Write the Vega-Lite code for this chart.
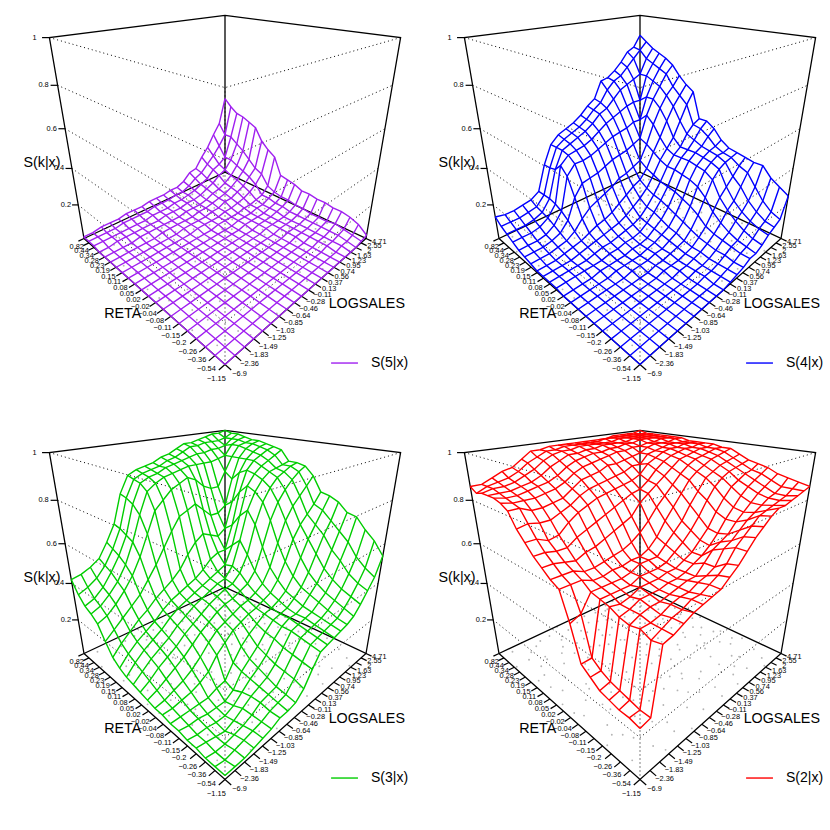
{"$schema":"https://vega.github.io/schema/vega-lite/v6.json","padding":0,"config":{"view":{"stroke":null},"font":"Liberation Sans"},
"datasets":{
"frame":[{"g":"a","o":0,"i":20,"j":0,"z":0},{"g":"a","o":1,"i":20,"j":0,"z":1},{"g":"a","o":2,"i":20,"j":20,"z":1},{"g":"a","o":3,"i":0,"j":20,"z":1},{"g":"a","o":4,"i":0,"j":20,"z":0},{"g":"b","o":0,"i":20,"j":20,"z":1},{"g":"b","o":1,"i":20,"j":20,"z":0},{"g":"c","o":0,"i":20,"j":0,"z":0},{"g":"c","o":1,"i":20,"j":20,"z":0},{"g":"c","o":2,"i":0,"j":20,"z":0},{"g":"c","o":3,"i":0,"j":0,"z":0},{"g":"c","o":4,"i":20,"j":0,"z":0}],
"levels":[{"g":"p","o":0,"i":0,"j":0,"z":0},{"g":"p","o":1,"i":0,"j":0,"z":1},{"g":"l2","o":0,"i":20,"j":0,"z":0.2},{"g":"l2","o":1,"i":0,"j":0,"z":0.2},{"g":"l2","o":2,"i":0,"j":20,"z":0.2},{"g":"l4","o":0,"i":20,"j":0,"z":0.4},{"g":"l4","o":1,"i":0,"j":0,"z":0.4},{"g":"l4","o":2,"i":0,"j":20,"z":0.4},{"g":"l6","o":0,"i":20,"j":0,"z":0.6},{"g":"l6","o":1,"i":0,"j":0,"z":0.6},{"g":"l6","o":2,"i":0,"j":20,"z":0.6},{"g":"l8","o":0,"i":20,"j":0,"z":0.8},{"g":"l8","o":1,"i":0,"j":0,"z":0.8},{"g":"l8","o":2,"i":0,"j":20,"z":0.8},{"g":"l10","o":0,"i":20,"j":0,"z":1},{"g":"l10","o":1,"i":0,"j":0,"z":1},{"g":"l10","o":2,"i":0,"j":20,"z":1}],
"ticks":[{"a":"l","i":0,"j":0,"z":0,"di":0,"dj":-1,"t":"−1.15"},{"a":"l","i":1,"j":0,"z":0,"di":0,"dj":-1,"t":"−0.54"},{"a":"l","i":2,"j":0,"z":0,"di":0,"dj":-1,"t":"−0.36"},{"a":"l","i":3,"j":0,"z":0,"di":0,"dj":-1,"t":"−0.26"},{"a":"l","i":4,"j":0,"z":0,"di":0,"dj":-1,"t":"−0.2"},{"a":"l","i":5,"j":0,"z":0,"di":0,"dj":-1,"t":"−0.15"},{"a":"l","i":6,"j":0,"z":0,"di":0,"dj":-1,"t":"−0.11"},{"a":"l","i":7,"j":0,"z":0,"di":0,"dj":-1,"t":"−0.08"},{"a":"l","i":8,"j":0,"z":0,"di":0,"dj":-1,"t":"−0.04"},{"a":"l","i":9,"j":0,"z":0,"di":0,"dj":-1,"t":"−0.02"},{"a":"l","i":10,"j":0,"z":0,"di":0,"dj":-1,"t":"0.02"},{"a":"l","i":11,"j":0,"z":0,"di":0,"dj":-1,"t":"0.05"},{"a":"l","i":12,"j":0,"z":0,"di":0,"dj":-1,"t":"0.08"},{"a":"l","i":13,"j":0,"z":0,"di":0,"dj":-1,"t":"0.11"},{"a":"l","i":14,"j":0,"z":0,"di":0,"dj":-1,"t":"0.15"},{"a":"l","i":15,"j":0,"z":0,"di":0,"dj":-1,"t":"0.19"},{"a":"l","i":16,"j":0,"z":0,"di":0,"dj":-1,"t":"0.23"},{"a":"l","i":17,"j":0,"z":0,"di":0,"dj":-1,"t":"0.28"},{"a":"l","i":18,"j":0,"z":0,"di":0,"dj":-1,"t":"0.34"},{"a":"l","i":19,"j":0,"z":0,"di":0,"dj":-1,"t":"0.44"},{"a":"l","i":20,"j":0,"z":0,"di":0,"dj":-1,"t":"0.82"},
{"a":"r","i":0,"j":0,"z":0,"di":-1,"dj":0,"t":"−6.9"},{"a":"r","i":0,"j":1,"z":0,"di":-1,"dj":0,"t":"−2.36"},{"a":"r","i":0,"j":2,"z":0,"di":-1,"dj":0,"t":"−1.83"},{"a":"r","i":0,"j":3,"z":0,"di":-1,"dj":0,"t":"−1.49"},{"a":"r","i":0,"j":4,"z":0,"di":-1,"dj":0,"t":"−1.25"},{"a":"r","i":0,"j":5,"z":0,"di":-1,"dj":0,"t":"−1.03"},{"a":"r","i":0,"j":6,"z":0,"di":-1,"dj":0,"t":"−0.85"},{"a":"r","i":0,"j":7,"z":0,"di":-1,"dj":0,"t":"−0.64"},{"a":"r","i":0,"j":8,"z":0,"di":-1,"dj":0,"t":"−0.46"},{"a":"r","i":0,"j":9,"z":0,"di":-1,"dj":0,"t":"−0.28"},{"a":"r","i":0,"j":10,"z":0,"di":-1,"dj":0,"t":"−0.11"},{"a":"r","i":0,"j":11,"z":0,"di":-1,"dj":0,"t":"0.13"},{"a":"r","i":0,"j":12,"z":0,"di":-1,"dj":0,"t":"0.37"},{"a":"r","i":0,"j":13,"z":0,"di":-1,"dj":0,"t":"0.56"},{"a":"r","i":0,"j":14,"z":0,"di":-1,"dj":0,"t":"0.74"},{"a":"r","i":0,"j":15,"z":0,"di":-1,"dj":0,"t":"0.95"},{"a":"r","i":0,"j":16,"z":0,"di":-1,"dj":0,"t":"1.23"},{"a":"r","i":0,"j":17,"z":0,"di":-1,"dj":0,"t":"1.63"},{"a":"r","i":0,"j":18,"z":0,"di":-1,"dj":0,"t":"2"},{"a":"r","i":0,"j":19,"z":0,"di":-1,"dj":0,"t":"2.55"},{"a":"r","i":0,"j":20,"z":0,"di":-1,"dj":0,"t":"4.71"},
{"a":"z","i":20,"j":0,"z":0.2,"di":0.7,"dj":-0.7,"t":"0.2"},{"a":"z","i":20,"j":0,"z":0.4,"di":0.7,"dj":-0.7,"t":"0.4"},{"a":"z","i":20,"j":0,"z":0.6,"di":0.7,"dj":-0.7,"t":"0.6"},{"a":"z","i":20,"j":0,"z":0.8,"di":0.7,"dj":-0.7,"t":"0.8"},{"a":"z","i":20,"j":0,"z":1,"di":0.7,"dj":-0.7,"t":"1"}],
"titles":[{"i":8.87,"j":-2.56,"z":0,"t":"RETA"},{"i":-4.26,"j":12.04,"z":0,"t":"LOGSALES"},{"i":21.88,"j":-1.88,"z":0.43,"t":"S(k|x)"}],
"points":[{"i":0.4,"j":3.1,"z":0},{"i":0.9,"j":8.4,"z":0},{"i":1.2,"j":15.6,"z":0},{"i":1.5,"j":0.7,"z":0},{"i":1.8,"j":11.3,"z":0},{"i":2.1,"j":5.2,"z":0},{"i":2.3,"j":18.7,"z":0},{"i":2.6,"j":13.4,"z":0},{"i":2.9,"j":2.2,"z":0},{"i":3.1,"j":9.1,"z":0},{"i":3.3,"j":16.2,"z":0},{"i":3.6,"j":6.4,"z":0},{"i":3.8,"j":0.3,"z":0},{"i":4.0,"j":12.1,"z":0},{"i":4.2,"j":19.5,"z":0},{"i":4.4,"j":3.8,"z":0},{"i":4.7,"j":14.6,"z":0},{"i":4.9,"j":7.9,"z":0},{"i":5.1,"j":10.6,"z":0},{"i":5.3,"j":1.6,"z":0},{"i":5.5,"j":17.3,"z":0},{"i":5.8,"j":5.0,"z":0},{"i":6.0,"j":13.0,"z":0},{"i":6.1,"j":8.8,"z":0},{"i":6.4,"j":2.9,"z":0},{"i":6.6,"j":19.0,"z":0},{"i":6.8,"j":15.1,"z":0},{"i":7.0,"j":6.2,"z":0},{"i":7.2,"j":11.5,"z":0},{"i":7.4,"j":0.9,"z":0},{"i":7.7,"j":16.9,"z":0},{"i":7.9,"j":4.3,"z":0},{"i":8.1,"j":9.7,"z":0},{"i":8.3,"j":13.8,"z":0},{"i":8.5,"j":18.1,"z":0},{"i":8.7,"j":2.1,"z":0},{"i":8.9,"j":7.1,"z":0},{"i":9.1,"j":11.9,"z":0},{"i":9.3,"j":15.9,"z":0},{"i":9.5,"j":5.6,"z":0},{"i":9.7,"j":0.4,"z":0},{"i":9.9,"j":19.7,"z":0},{"i":10.1,"j":9.0,"z":0},{"i":10.3,"j":3.4,"z":0},{"i":10.5,"j":13.2,"z":0},{"i":10.7,"j":17.0,"z":0},{"i":10.9,"j":6.8,"z":0},{"i":11.1,"j":1.4,"z":0},{"i":11.3,"j":10.9,"z":0},{"i":11.5,"j":15.3,"z":0},{"i":11.7,"j":4.8,"z":0},{"i":11.9,"j":18.6,"z":0},{"i":12.1,"j":8.2,"z":0},{"i":12.3,"j":12.7,"z":0},{"i":12.5,"j":2.6,"z":0},{"i":12.7,"j":16.4,"z":0},{"i":12.9,"j":6.0,"z":0},{"i":13.1,"j":10.2,"z":0},{"i":13.3,"j":19.2,"z":0},{"i":13.5,"j":14.3,"z":0},{"i":13.7,"j":0.6,"z":0},{"i":13.9,"j":8.0,"z":0},{"i":14.1,"j":3.7,"z":0},{"i":14.3,"j":12.4,"z":0},{"i":14.5,"j":17.6,"z":0},{"i":14.7,"j":5.4,"z":0},{"i":14.9,"j":15.0,"z":0},{"i":15.1,"j":9.4,"z":0},{"i":15.3,"j":1.9,"z":0},{"i":15.5,"j":11.1,"z":0},{"i":15.7,"j":18.9,"z":0},{"i":15.9,"j":6.6,"z":0},{"i":16.1,"j":13.6,"z":0},{"i":16.3,"j":3.0,"z":0},{"i":16.5,"j":16.7,"z":0},{"i":16.7,"j":8.6,"z":0},{"i":16.9,"j":0.2,"z":0},{"i":17.1,"j":11.7,"z":0},{"i":17.3,"j":19.9,"z":0},{"i":17.5,"j":5.8,"z":0},{"i":17.7,"j":14.1,"z":0},{"i":17.9,"j":2.4,"z":0},{"i":18.1,"j":9.9,"z":0},{"i":18.3,"j":17.1,"z":0},{"i":18.5,"j":7.4,"z":0},{"i":18.7,"j":12.9,"z":0},{"i":18.9,"j":4.1,"z":0},{"i":19.1,"j":15.8,"z":0},{"i":19.3,"j":1.1,"z":0},{"i":19.5,"j":10.4,"z":0},{"i":19.7,"j":18.3,"z":0},{"i":19.9,"j":6.9,"z":0},{"i":0.6,"j":13.1,"z":0},{"i":1.0,"j":18.0,"z":0},{"i":2.0,"j":7.6,"z":0},{"i":3.5,"j":11.2,"z":0},{"i":4.5,"j":17.8,"z":0},{"i":5.6,"j":9.5,"z":0},{"i":6.5,"j":16.0,"z":0},{"i":7.5,"j":8.3,"z":0},{"i":8.6,"j":15.4,"z":0},{"i":9.6,"j":3.2,"z":0},{"i":10.6,"j":11.6,"z":0},{"i":11.6,"j":17.9,"z":0},{"i":12.6,"j":5.1,"z":0},{"i":13.6,"j":16.1,"z":0},{"i":14.6,"j":10.0,"z":0},{"i":15.6,"j":4.5,"z":0},{"i":16.6,"j":18.2,"z":0},{"i":17.6,"j":10.8,"z":0},{"i":18.6,"j":15.2,"z":0},{"i":19.6,"j":13.7,"z":0},{"i":16.0,"j":14.9,"z":0},{"i":17.2,"j":16.3,"z":0},{"i":18.2,"j":18.8,"z":0},{"i":19.2,"j":17.4,"z":0},{"i":15.2,"j":16.6,"z":0},{"i":14.2,"j":19.3,"z":0},{"i":19.4,"j":19.1,"z":0},{"i":18.8,"j":13.3,"z":0},{"i":17.8,"j":19.4,"z":0},{"i":16.8,"j":12.2,"z":0},{"i":0.3,"j":6.1,"z":0},{"i":0.7,"j":10.8,"z":0},{"i":1.3,"j":2.7,"z":0},{"i":1.6,"j":13.9,"z":0},{"i":2.4,"j":9.8,"z":0},{"i":2.7,"j":16.6,"z":0},{"i":3.0,"j":4.4,"z":0},{"i":3.4,"j":14.2,"z":0},{"i":3.9,"j":8.6,"z":0},{"i":4.3,"j":1.2,"z":0},{"i":4.6,"j":10.1,"z":0},{"i":5.0,"j":18.8,"z":0},{"i":5.4,"j":7.0,"z":0},{"i":5.9,"j":15.3,"z":0},{"i":6.3,"j":11.0,"z":0},{"i":6.7,"j":4.6,"z":0},{"i":7.1,"j":18.4,"z":0},{"i":7.6,"j":13.3,"z":0},{"i":8.0,"j":6.6,"z":0},{"i":8.4,"j":11.1,"z":0},{"i":8.8,"j":4.9,"z":0},{"i":9.2,"j":17.5,"z":0},{"i":9.8,"j":13.0,"z":0},{"i":10.2,"j":6.1,"z":0},{"i":10.8,"j":15.7,"z":0},{"i":11.2,"j":8.9,"z":0},{"i":11.8,"j":12.9,"z":0},{"i":12.2,"j":0.9,"z":0},{"i":12.8,"j":10.5,"z":0},{"i":13.2,"j":5.9,"z":0},{"i":13.8,"j":18.0,"z":0},{"i":14.4,"j":7.2,"z":0},{"i":14.8,"j":13.1,"z":0},{"i":15.4,"j":18.1,"z":0},{"i":15.8,"j":2.9,"z":0},{"i":16.2,"j":9.8,"z":0},{"i":16.4,"j":5.2,"z":0},{"i":17.0,"j":15.5,"z":0},{"i":17.4,"j":8.3,"z":0},{"i":18.0,"j":12.0,"z":0},{"i":18.4,"j":3.3,"z":0},{"i":19.0,"j":9.0,"z":0},{"i":19.8,"j":15.0,"z":0},{"i":19.0,"j":5.3,"z":0},{"i":0.2,"j":17.1,"z":0},{"i":1.1,"j":4.9,"z":0},{"i":2.2,"j":15.0,"z":0},{"i":3.7,"j":1.8,"z":0},{"i":4.8,"j":5.9,"z":0},{"i":6.2,"j":6.9,"z":0},{"i":7.3,"j":2.8,"z":0},{"i":8.2,"j":0.5,"z":0},{"i":9.4,"j":10.3,"z":0},{"i":10.4,"j":18.9,"z":0},{"i":11.4,"j":6.3,"z":0},{"i":12.4,"j":15.2,"z":0},{"i":13.4,"j":8.8,"z":0},{"i":14.0,"j":1.4,"z":0},{"i":15.0,"j":12.3,"z":0},{"i":16.0,"j":7.6,"z":0},{"i":17.0,"j":1.6,"z":0},{"i":18.0,"j":6.2,"z":0},{"i":19.2,"j":11.8,"z":0}],
"nodes":[
{"i":0,"j":0,"S5":0,"S4":0,"S3":2,"S2":24},{"i":0,"j":1,"S5":0,"S4":0,"S3":2,"S2":25},{"i":0,"j":2,"S5":0,"S4":0,"S3":2,"S2":52},{"i":0,"j":3,"S5":0,"S4":0,"S3":3,"S2":53},{"i":0,"j":4,"S5":0,"S4":0,"S3":4,"S2":55},{"i":0,"j":5,"S5":0,"S4":0,"S3":5,"S2":57},{"i":0,"j":6,"S5":0,"S4":0,"S3":7,"S2":58},{"i":0,"j":7,"S5":0,"S4":0,"S3":7,"S2":59},{"i":0,"j":8,"S5":0,"S4":0,"S3":8,"S2":60},{"i":0,"j":9,"S5":0,"S4":0,"S3":12,"S2":63},{"i":0,"j":10,"S5":0,"S4":0,"S3":19,"S2":66},{"i":0,"j":11,"S5":0,"S4":1,"S3":25,"S2":70},{"i":0,"j":12,"S5":0,"S4":2,"S3":26,"S2":74},{"i":0,"j":13,"S5":0,"S4":3,"S3":27,"S2":77},{"i":0,"j":14,"S5":0,"S4":5,"S3":28,"S2":80},{"i":0,"j":15,"S5":0,"S4":5,"S3":29,"S2":82},{"i":0,"j":16,"S5":0,"S4":7,"S3":31,"S2":82},{"i":0,"j":17,"S5":0,"S4":10,"S3":35,"S2":83},{"i":0,"j":18,"S5":0,"S4":12,"S3":40,"S2":84},{"i":0,"j":19,"S5":1,"S4":14,"S3":45,"S2":85},{"i":0,"j":20,"S5":2,"S4":25,"S3":54,"S2":86},
{"i":1,"j":0,"S5":0,"S4":0,"S3":2,"S2":25},{"i":1,"j":1,"S5":0,"S4":0,"S3":1,"S2":25},{"i":1,"j":2,"S5":0,"S4":0,"S3":2,"S2":51},{"i":1,"j":3,"S5":0,"S4":0,"S3":3,"S2":53},{"i":1,"j":4,"S5":0,"S4":0,"S3":4,"S2":55},{"i":1,"j":5,"S5":0,"S4":0,"S3":5,"S2":56},{"i":1,"j":6,"S5":0,"S4":0,"S3":7,"S2":58},{"i":1,"j":7,"S5":0,"S4":0,"S3":8,"S2":58},{"i":1,"j":8,"S5":0,"S4":0,"S3":9,"S2":60},{"i":1,"j":9,"S5":0,"S4":0,"S3":14,"S2":62},{"i":1,"j":10,"S5":0,"S4":0,"S3":20,"S2":65},{"i":1,"j":11,"S5":0,"S4":1,"S3":26,"S2":70},{"i":1,"j":12,"S5":0,"S4":2,"S3":27,"S2":73},{"i":1,"j":13,"S5":0,"S4":3,"S3":28,"S2":76},{"i":1,"j":14,"S5":0,"S4":5,"S3":29,"S2":79},{"i":1,"j":15,"S5":0,"S4":6,"S3":30,"S2":80},{"i":1,"j":16,"S5":0,"S4":8,"S3":33,"S2":81},{"i":1,"j":17,"S5":1,"S4":11,"S3":37,"S2":82},{"i":1,"j":18,"S5":1,"S4":13,"S3":42,"S2":83},{"i":1,"j":19,"S5":2,"S4":16,"S3":48,"S2":85},{"i":1,"j":20,"S5":6,"S4":28,"S3":60,"S2":87},
{"i":2,"j":0,"S5":0,"S4":0,"S3":2,"S2":25},{"i":2,"j":1,"S5":0,"S4":0,"S3":1,"S2":26},{"i":2,"j":2,"S5":0,"S4":0,"S3":1,"S2":53},{"i":2,"j":3,"S5":0,"S4":0,"S3":2,"S2":53},{"i":2,"j":4,"S5":0,"S4":0,"S3":3,"S2":54},{"i":2,"j":5,"S5":0,"S4":0,"S3":5,"S2":56},{"i":2,"j":6,"S5":0,"S4":0,"S3":8,"S2":57},{"i":2,"j":7,"S5":0,"S4":0,"S3":9,"S2":57},{"i":2,"j":8,"S5":0,"S4":0,"S3":10,"S2":59},{"i":2,"j":9,"S5":0,"S4":0,"S3":15,"S2":60},{"i":2,"j":10,"S5":0,"S4":1,"S3":21,"S2":62},{"i":2,"j":11,"S5":0,"S4":1,"S3":27,"S2":68},{"i":2,"j":12,"S5":0,"S4":2,"S3":28,"S2":70},{"i":2,"j":13,"S5":0,"S4":4,"S3":29,"S2":73},{"i":2,"j":14,"S5":0,"S4":6,"S3":30,"S2":76},{"i":2,"j":15,"S5":0,"S4":7,"S3":32,"S2":78},{"i":2,"j":16,"S5":1,"S4":10,"S3":35,"S2":80},{"i":2,"j":17,"S5":1,"S4":13,"S3":39,"S2":82},{"i":2,"j":18,"S5":2,"S4":16,"S3":45,"S2":83},{"i":2,"j":19,"S5":3,"S4":20,"S3":52,"S2":85},{"i":2,"j":20,"S5":8,"S4":31,"S3":64,"S2":88},
{"i":3,"j":0,"S5":0,"S4":0,"S3":3,"S2":26},{"i":3,"j":1,"S5":0,"S4":0,"S3":2,"S2":27},{"i":3,"j":2,"S5":0,"S4":0,"S3":1,"S2":52},{"i":3,"j":3,"S5":0,"S4":0,"S3":0,"S2":54},{"i":3,"j":4,"S5":0,"S4":0,"S3":2,"S2":55},{"i":3,"j":5,"S5":0,"S4":0,"S3":5,"S2":55},{"i":3,"j":6,"S5":0,"S4":0,"S3":8,"S2":56},{"i":3,"j":7,"S5":0,"S4":0,"S3":10,"S2":57},{"i":3,"j":8,"S5":0,"S4":0,"S3":12,"S2":58},{"i":3,"j":9,"S5":0,"S4":0,"S3":16,"S2":58},{"i":3,"j":10,"S5":0,"S4":1,"S3":22,"S2":62},{"i":3,"j":11,"S5":0,"S4":1,"S3":28,"S2":66},{"i":3,"j":12,"S5":0,"S4":2,"S3":29,"S2":68},{"i":3,"j":13,"S5":0,"S4":4,"S3":30,"S2":70},{"i":3,"j":14,"S5":0,"S4":7,"S3":31,"S2":74},{"i":3,"j":15,"S5":0,"S4":9,"S3":34,"S2":77},{"i":3,"j":16,"S5":1,"S4":13,"S3":37,"S2":80},{"i":3,"j":17,"S5":1,"S4":16,"S3":42,"S2":83},{"i":3,"j":18,"S5":2,"S4":20,"S3":50,"S2":85},{"i":3,"j":19,"S5":4,"S4":26,"S3":58,"S2":87},{"i":3,"j":20,"S5":9,"S4":36,"S3":69,"S2":89},
{"i":4,"j":0,"S5":0,"S4":0,"S3":3,"S2":27},{"i":4,"j":1,"S5":0,"S4":0,"S3":2,"S2":28},{"i":4,"j":2,"S5":0,"S4":0,"S3":2,"S2":53},{"i":4,"j":3,"S5":0,"S4":0,"S3":1,"S2":54},{"i":4,"j":4,"S5":0,"S4":0,"S3":1,"S2":56},{"i":4,"j":5,"S5":0,"S4":0,"S3":3,"S2":56},{"i":4,"j":6,"S5":0,"S4":0,"S3":7,"S2":56},{"i":4,"j":7,"S5":0,"S4":0,"S3":11,"S2":57},{"i":4,"j":8,"S5":0,"S4":0,"S3":14,"S2":57},{"i":4,"j":9,"S5":0,"S4":1,"S3":18,"S2":58},{"i":4,"j":10,"S5":0,"S4":1,"S3":24,"S2":60},{"i":4,"j":11,"S5":0,"S4":2,"S3":28,"S2":62},{"i":4,"j":12,"S5":0,"S4":3,"S3":30,"S2":65},{"i":4,"j":13,"S5":0,"S4":5,"S3":30,"S2":69},{"i":4,"j":14,"S5":0,"S4":8,"S3":32,"S2":74},{"i":4,"j":15,"S5":0,"S4":12,"S3":36,"S2":78},{"i":4,"j":16,"S5":1,"S4":17,"S3":40,"S2":82},{"i":4,"j":17,"S5":1,"S4":20,"S3":46,"S2":85},{"i":4,"j":18,"S5":2,"S4":26,"S3":54,"S2":87},{"i":4,"j":19,"S5":3,"S4":32,"S3":62,"S2":89},{"i":4,"j":20,"S5":9,"S4":36,"S3":70,"S2":91},
{"i":5,"j":0,"S5":0,"S4":0,"S3":4,"S2":30},{"i":5,"j":1,"S5":0,"S4":0,"S3":3,"S2":30},{"i":5,"j":2,"S5":0,"S4":0,"S3":3,"S2":55},{"i":5,"j":3,"S5":0,"S4":0,"S3":2,"S2":54},{"i":5,"j":4,"S5":0,"S4":0,"S3":2,"S2":55},{"i":5,"j":5,"S5":0,"S4":0,"S3":2,"S2":57},{"i":5,"j":6,"S5":0,"S4":0,"S3":5,"S2":57},{"i":5,"j":7,"S5":0,"S4":0,"S3":12,"S2":57},{"i":5,"j":8,"S5":0,"S4":1,"S3":16,"S2":58},{"i":5,"j":9,"S5":0,"S4":1,"S3":20,"S2":58},{"i":5,"j":10,"S5":0,"S4":1,"S3":25,"S2":60},{"i":5,"j":11,"S5":0,"S4":2,"S3":29,"S2":62},{"i":5,"j":12,"S5":0,"S4":3,"S3":30,"S2":66},{"i":5,"j":13,"S5":0,"S4":6,"S3":31,"S2":70},{"i":5,"j":14,"S5":0,"S4":10,"S3":34,"S2":76},{"i":5,"j":15,"S5":1,"S4":16,"S3":38,"S2":81},{"i":5,"j":16,"S5":1,"S4":22,"S3":44,"S2":85},{"i":5,"j":17,"S5":1,"S4":26,"S3":52,"S2":87},{"i":5,"j":18,"S5":2,"S4":30,"S3":60,"S2":89},{"i":5,"j":19,"S5":3,"S4":34,"S3":66,"S2":90},{"i":5,"j":20,"S5":10,"S4":37,"S3":74,"S2":92},
{"i":6,"j":0,"S5":0,"S4":0,"S3":4,"S2":33},{"i":6,"j":1,"S5":0,"S4":0,"S3":4,"S2":33},{"i":6,"j":2,"S5":0,"S4":0,"S3":4,"S2":56},{"i":6,"j":3,"S5":0,"S4":0,"S3":4,"S2":56},{"i":6,"j":4,"S5":0,"S4":0,"S3":4,"S2":56},{"i":6,"j":5,"S5":0,"S4":0,"S3":6,"S2":56},{"i":6,"j":6,"S5":0,"S4":0,"S3":7,"S2":58},{"i":6,"j":7,"S5":0,"S4":0,"S3":14,"S2":58},{"i":6,"j":8,"S5":0,"S4":1,"S3":20,"S2":58},{"i":6,"j":9,"S5":0,"S4":1,"S3":24,"S2":59},{"i":6,"j":10,"S5":0,"S4":2,"S3":27,"S2":62},{"i":6,"j":11,"S5":0,"S4":3,"S3":30,"S2":65},{"i":6,"j":12,"S5":0,"S4":4,"S3":31,"S2":69},{"i":6,"j":13,"S5":0,"S4":8,"S3":33,"S2":74},{"i":6,"j":14,"S5":0,"S4":14,"S3":36,"S2":80},{"i":6,"j":15,"S5":1,"S4":22,"S3":42,"S2":85},{"i":6,"j":16,"S5":1,"S4":30,"S3":50,"S2":88},{"i":6,"j":17,"S5":1,"S4":34,"S3":58,"S2":90},{"i":6,"j":18,"S5":2,"S4":36,"S3":64,"S2":91},{"i":6,"j":19,"S5":3,"S4":37,"S3":70,"S2":92},{"i":6,"j":20,"S5":10,"S4":38,"S3":76,"S2":93},
{"i":7,"j":0,"S5":0,"S4":0,"S3":5,"S2":48},{"i":7,"j":1,"S5":0,"S4":0,"S3":5,"S2":50},{"i":7,"j":2,"S5":0,"S4":0,"S3":6,"S2":57},{"i":7,"j":3,"S5":0,"S4":0,"S3":7,"S2":57},{"i":7,"j":4,"S5":0,"S4":0,"S3":9,"S2":57},{"i":7,"j":5,"S5":0,"S4":0,"S3":12,"S2":57},{"i":7,"j":6,"S5":0,"S4":1,"S3":18,"S2":58},{"i":7,"j":7,"S5":0,"S4":1,"S3":22,"S2":60},{"i":7,"j":8,"S5":0,"S4":1,"S3":26,"S2":60},{"i":7,"j":9,"S5":0,"S4":2,"S3":28,"S2":60},{"i":7,"j":10,"S5":0,"S4":2,"S3":30,"S2":64},{"i":7,"j":11,"S5":0,"S4":4,"S3":31,"S2":68},{"i":7,"j":12,"S5":0,"S4":6,"S3":33,"S2":72},{"i":7,"j":13,"S5":0,"S4":10,"S3":35,"S2":78},{"i":7,"j":14,"S5":0,"S4":17,"S3":40,"S2":83},{"i":7,"j":15,"S5":1,"S4":26,"S3":48,"S2":88},{"i":7,"j":16,"S5":1,"S4":33,"S3":58,"S2":90},{"i":7,"j":17,"S5":1,"S4":36,"S3":64,"S2":92},{"i":7,"j":18,"S5":2,"S4":38,"S3":68,"S2":93},{"i":7,"j":19,"S5":4,"S4":38,"S3":72,"S2":94},{"i":7,"j":20,"S5":11,"S4":39,"S3":77,"S2":95},
{"i":8,"j":0,"S5":0,"S4":0,"S3":5,"S2":60},{"i":8,"j":1,"S5":0,"S4":0,"S3":6,"S2":60},{"i":8,"j":2,"S5":0,"S4":0,"S3":8,"S2":60},{"i":8,"j":3,"S5":0,"S4":0,"S3":10,"S2":58},{"i":8,"j":4,"S5":0,"S4":0,"S3":13,"S2":58},{"i":8,"j":5,"S5":0,"S4":1,"S3":17,"S2":59},{"i":8,"j":6,"S5":0,"S4":1,"S3":22,"S2":59},{"i":8,"j":7,"S5":0,"S4":1,"S3":26,"S2":60},{"i":8,"j":8,"S5":0,"S4":1,"S3":28,"S2":60},{"i":8,"j":9,"S5":0,"S4":2,"S3":30,"S2":62},{"i":8,"j":10,"S5":0,"S4":3,"S3":32,"S2":66},{"i":8,"j":11,"S5":0,"S4":5,"S3":33,"S2":72},{"i":8,"j":12,"S5":0,"S4":7,"S3":35,"S2":77},{"i":8,"j":13,"S5":0,"S4":12,"S3":38,"S2":82},{"i":8,"j":14,"S5":1,"S4":19,"S3":45,"S2":87},{"i":8,"j":15,"S5":1,"S4":28,"S3":56,"S2":90},{"i":8,"j":16,"S5":1,"S4":34,"S3":66,"S2":92},{"i":8,"j":17,"S5":1,"S4":37,"S3":72,"S2":94},{"i":8,"j":18,"S5":2,"S4":39,"S3":76,"S2":95},{"i":8,"j":19,"S5":4,"S4":40,"S3":80,"S2":96},{"i":8,"j":20,"S5":11,"S4":42,"S3":84,"S2":97},
{"i":9,"j":0,"S5":0,"S4":0,"S3":6,"S2":62},{"i":9,"j":1,"S5":0,"S4":0,"S3":8,"S2":62},{"i":9,"j":2,"S5":0,"S4":0,"S3":11,"S2":62},{"i":9,"j":3,"S5":0,"S4":0,"S3":14,"S2":60},{"i":9,"j":4,"S5":0,"S4":1,"S3":17,"S2":60},{"i":9,"j":5,"S5":0,"S4":1,"S3":21,"S2":61},{"i":9,"j":6,"S5":0,"S4":1,"S3":25,"S2":62},{"i":9,"j":7,"S5":0,"S4":1,"S3":28,"S2":63},{"i":9,"j":8,"S5":0,"S4":2,"S3":31,"S2":65},{"i":9,"j":9,"S5":0,"S4":2,"S3":33,"S2":68},{"i":9,"j":10,"S5":0,"S4":3,"S3":34,"S2":72},{"i":9,"j":11,"S5":0,"S4":6,"S3":36,"S2":77},{"i":9,"j":12,"S5":0,"S4":9,"S3":38,"S2":81},{"i":9,"j":13,"S5":0,"S4":14,"S3":43,"S2":85},{"i":9,"j":14,"S5":1,"S4":21,"S3":54,"S2":89},{"i":9,"j":15,"S5":1,"S4":29,"S3":66,"S2":92},{"i":9,"j":16,"S5":1,"S4":35,"S3":74,"S2":94},{"i":9,"j":17,"S5":2,"S4":38,"S3":79,"S2":95},{"i":9,"j":18,"S5":3,"S4":40,"S3":83,"S2":96},{"i":9,"j":19,"S5":5,"S4":44,"S3":86,"S2":97},{"i":9,"j":20,"S5":13,"S4":47,"S3":88,"S2":97},
{"i":10,"j":0,"S5":0,"S4":1,"S3":7,"S2":65},{"i":10,"j":1,"S5":0,"S4":1,"S3":10,"S2":65},{"i":10,"j":2,"S5":0,"S4":1,"S3":14,"S2":64},{"i":10,"j":3,"S5":0,"S4":1,"S3":17,"S2":63},{"i":10,"j":4,"S5":0,"S4":1,"S3":20,"S2":65},{"i":10,"j":5,"S5":0,"S4":1,"S3":24,"S2":66},{"i":10,"j":6,"S5":0,"S4":2,"S3":27,"S2":68},{"i":10,"j":7,"S5":0,"S4":2,"S3":30,"S2":70},{"i":10,"j":8,"S5":0,"S4":3,"S3":33,"S2":72},{"i":10,"j":9,"S5":0,"S4":3,"S3":35,"S2":74},{"i":10,"j":10,"S5":0,"S4":4,"S3":37,"S2":79},{"i":10,"j":11,"S5":0,"S4":7,"S3":38,"S2":82},{"i":10,"j":12,"S5":0,"S4":11,"S3":42,"S2":85},{"i":10,"j":13,"S5":1,"S4":16,"S3":50,"S2":88},{"i":10,"j":14,"S5":1,"S4":22,"S3":64,"S2":91},{"i":10,"j":15,"S5":1,"S4":30,"S3":74,"S2":94},{"i":10,"j":16,"S5":1,"S4":35,"S3":80,"S2":95},{"i":10,"j":17,"S5":2,"S4":38,"S3":84,"S2":96},{"i":10,"j":18,"S5":3,"S4":42,"S3":86,"S2":97},{"i":10,"j":19,"S5":5,"S4":47,"S3":88,"S2":97},{"i":10,"j":20,"S5":14,"S4":50,"S3":89,"S2":98},
{"i":11,"j":0,"S5":0,"S4":1,"S3":8,"S2":68},{"i":11,"j":1,"S5":0,"S4":1,"S3":12,"S2":68},{"i":11,"j":2,"S5":0,"S4":1,"S3":16,"S2":67},{"i":11,"j":3,"S5":0,"S4":1,"S3":19,"S2":67},{"i":11,"j":4,"S5":0,"S4":1,"S3":22,"S2":70},{"i":11,"j":5,"S5":0,"S4":2,"S3":26,"S2":72},{"i":11,"j":6,"S5":0,"S4":3,"S3":29,"S2":74},{"i":11,"j":7,"S5":0,"S4":3,"S3":32,"S2":76},{"i":11,"j":8,"S5":0,"S4":4,"S3":34,"S2":78},{"i":11,"j":9,"S5":0,"S4":5,"S3":36,"S2":80},{"i":11,"j":10,"S5":0,"S4":6,"S3":38,"S2":82},{"i":11,"j":11,"S5":0,"S4":8,"S3":39,"S2":83},{"i":11,"j":12,"S5":0,"S4":12,"S3":44,"S2":86},{"i":11,"j":13,"S5":1,"S4":17,"S3":56,"S2":90},{"i":11,"j":14,"S5":1,"S4":23,"S3":70,"S2":93},{"i":11,"j":15,"S5":1,"S4":30,"S3":78,"S2":95},{"i":11,"j":16,"S5":2,"S4":35,"S3":83,"S2":96},{"i":11,"j":17,"S5":2,"S4":38,"S3":86,"S2":97},{"i":11,"j":18,"S5":4,"S4":44,"S3":87,"S2":97},{"i":11,"j":19,"S5":6,"S4":48,"S3":88,"S2":98},{"i":11,"j":20,"S5":15,"S4":50,"S3":89,"S2":98},
{"i":12,"j":0,"S5":0,"S4":1,"S3":9,"S2":72},{"i":12,"j":1,"S5":0,"S4":1,"S3":14,"S2":72},{"i":12,"j":2,"S5":0,"S4":1,"S3":18,"S2":70},{"i":12,"j":3,"S5":0,"S4":1,"S3":21,"S2":71},{"i":12,"j":4,"S5":0,"S4":2,"S3":24,"S2":75},{"i":12,"j":5,"S5":0,"S4":3,"S3":28,"S2":78},{"i":12,"j":6,"S5":0,"S4":4,"S3":31,"S2":80},{"i":12,"j":7,"S5":0,"S4":5,"S3":33,"S2":82},{"i":12,"j":8,"S5":0,"S4":6,"S3":35,"S2":83},{"i":12,"j":9,"S5":0,"S4":7,"S3":37,"S2":84},{"i":12,"j":10,"S5":0,"S4":9,"S3":39,"S2":85},{"i":12,"j":11,"S5":1,"S4":12,"S3":41,"S2":86},{"i":12,"j":12,"S5":1,"S4":15,"S3":43,"S2":88},{"i":12,"j":13,"S5":1,"S4":19,"S3":52,"S2":92},{"i":12,"j":14,"S5":1,"S4":25,"S3":66,"S2":94},{"i":12,"j":15,"S5":2,"S4":32,"S3":80,"S2":96},{"i":12,"j":16,"S5":2,"S4":37,"S3":85,"S2":97},{"i":12,"j":17,"S5":3,"S4":42,"S3":88,"S2":97},{"i":12,"j":18,"S5":4,"S4":50,"S3":90,"S2":98},{"i":12,"j":19,"S5":8,"S4":58,"S3":92,"S2":98},{"i":12,"j":20,"S5":25,"S4":64,"S3":94,"S2":98},
{"i":13,"j":0,"S5":0,"S4":1,"S3":11,"S2":76},{"i":13,"j":1,"S5":0,"S4":1,"S3":16,"S2":77},{"i":13,"j":2,"S5":0,"S4":1,"S3":20,"S2":76},{"i":13,"j":3,"S5":0,"S4":2,"S3":23,"S2":76},{"i":13,"j":4,"S5":0,"S4":3,"S3":26,"S2":78},{"i":13,"j":5,"S5":0,"S4":4,"S3":30,"S2":80},{"i":13,"j":6,"S5":0,"S4":6,"S3":33,"S2":83},{"i":13,"j":7,"S5":0,"S4":8,"S3":35,"S2":85},{"i":13,"j":8,"S5":0,"S4":9,"S3":37,"S2":86},{"i":13,"j":9,"S5":1,"S4":11,"S3":39,"S2":87},{"i":13,"j":10,"S5":1,"S4":14,"S3":42,"S2":88},{"i":13,"j":11,"S5":1,"S4":17,"S3":46,"S2":89},{"i":13,"j":12,"S5":1,"S4":20,"S3":48,"S2":91},{"i":13,"j":13,"S5":2,"S4":22,"S3":48,"S2":91},{"i":13,"j":14,"S5":2,"S4":27,"S3":60,"S2":95},{"i":13,"j":15,"S5":3,"S4":35,"S3":76,"S2":96},{"i":13,"j":16,"S5":4,"S4":42,"S3":86,"S2":97},{"i":13,"j":17,"S5":6,"S4":50,"S3":90,"S2":98},{"i":13,"j":18,"S5":9,"S4":57,"S3":92,"S2":98},{"i":13,"j":19,"S5":14,"S4":62,"S3":94,"S2":98},{"i":13,"j":20,"S5":28,"S4":67,"S3":95,"S2":98},
{"i":14,"j":0,"S5":0,"S4":2,"S3":14,"S2":82},{"i":14,"j":1,"S5":0,"S4":2,"S3":19,"S2":82},{"i":14,"j":2,"S5":0,"S4":2,"S3":23,"S2":80},{"i":14,"j":3,"S5":0,"S4":3,"S3":27,"S2":80},{"i":14,"j":4,"S5":0,"S4":4,"S3":30,"S2":81},{"i":14,"j":5,"S5":0,"S4":7,"S3":34,"S2":82},{"i":14,"j":6,"S5":0,"S4":12,"S3":37,"S2":85},{"i":14,"j":7,"S5":0,"S4":16,"S3":40,"S2":88},{"i":14,"j":8,"S5":1,"S4":18,"S3":44,"S2":89},{"i":14,"j":9,"S5":1,"S4":20,"S3":50,"S2":90},{"i":14,"j":10,"S5":1,"S4":22,"S3":55,"S2":92},{"i":14,"j":11,"S5":1,"S4":25,"S3":58,"S2":92},{"i":14,"j":12,"S5":2,"S4":26,"S3":56,"S2":93},{"i":14,"j":13,"S5":2,"S4":28,"S3":54,"S2":94},{"i":14,"j":14,"S5":4,"S4":30,"S3":57,"S2":95},{"i":14,"j":15,"S5":4,"S4":38,"S3":70,"S2":97},{"i":14,"j":16,"S5":6,"S4":48,"S3":84,"S2":98},{"i":14,"j":17,"S5":8,"S4":56,"S3":90,"S2":98},{"i":14,"j":18,"S5":12,"S4":62,"S3":93,"S2":98},{"i":14,"j":19,"S5":16,"S4":66,"S3":95,"S2":99},{"i":14,"j":20,"S5":32,"S4":71,"S3":96,"S2":99},
{"i":15,"j":0,"S5":0,"S4":3,"S3":20,"S2":84},{"i":15,"j":1,"S5":0,"S4":3,"S3":24,"S2":83},{"i":15,"j":2,"S5":0,"S4":3,"S3":28,"S2":83},{"i":15,"j":3,"S5":0,"S4":4,"S3":32,"S2":83},{"i":15,"j":4,"S5":0,"S4":6,"S3":36,"S2":84},{"i":15,"j":5,"S5":0,"S4":11,"S3":42,"S2":85},{"i":15,"j":6,"S5":1,"S4":22,"S3":48,"S2":87},{"i":15,"j":7,"S5":1,"S4":28,"S3":55,"S2":90},{"i":15,"j":8,"S5":1,"S4":29,"S3":62,"S2":92},{"i":15,"j":9,"S5":1,"S4":30,"S3":68,"S2":93},{"i":15,"j":10,"S5":1,"S4":32,"S3":70,"S2":94},{"i":15,"j":11,"S5":2,"S4":34,"S3":72,"S2":95},{"i":15,"j":12,"S5":2,"S4":35,"S3":68,"S2":96},{"i":15,"j":13,"S5":3,"S4":36,"S3":64,"S2":96},{"i":15,"j":14,"S5":4,"S4":38,"S3":64,"S2":97},{"i":15,"j":15,"S5":5,"S4":40,"S3":67,"S2":97},{"i":15,"j":16,"S5":7,"S4":52,"S3":80,"S2":98},{"i":15,"j":17,"S5":10,"S4":60,"S3":90,"S2":98},{"i":15,"j":18,"S5":14,"S4":66,"S3":94,"S2":99},{"i":15,"j":19,"S5":20,"S4":72,"S3":96,"S2":99},{"i":15,"j":20,"S5":39,"S4":76,"S3":97,"S2":99},
{"i":16,"j":0,"S5":0,"S4":4,"S3":27,"S2":85},{"i":16,"j":1,"S5":0,"S4":4,"S3":29,"S2":84},{"i":16,"j":2,"S5":0,"S4":4,"S3":33,"S2":84},{"i":16,"j":3,"S5":0,"S4":5,"S3":38,"S2":85},{"i":16,"j":4,"S5":1,"S4":8,"S3":44,"S2":86},{"i":16,"j":5,"S5":1,"S4":14,"S3":52,"S2":87},{"i":16,"j":6,"S5":1,"S4":32,"S3":62,"S2":89},{"i":16,"j":7,"S5":1,"S4":37,"S3":72,"S2":92},{"i":16,"j":8,"S5":1,"S4":37,"S3":76,"S2":94},{"i":16,"j":9,"S5":1,"S4":38,"S3":80,"S2":95},{"i":16,"j":10,"S5":2,"S4":40,"S3":82,"S2":96},{"i":16,"j":11,"S5":2,"S4":42,"S3":84,"S2":96},{"i":16,"j":12,"S5":2,"S4":44,"S3":82,"S2":97},{"i":16,"j":13,"S5":3,"S4":45,"S3":78,"S2":97},{"i":16,"j":14,"S5":5,"S4":46,"S3":76,"S2":98},{"i":16,"j":15,"S5":6,"S4":48,"S3":76,"S2":98},{"i":16,"j":16,"S5":8,"S4":48,"S3":83,"S2":99},{"i":16,"j":17,"S5":11,"S4":60,"S3":90,"S2":99},{"i":16,"j":18,"S5":16,"S4":68,"S3":95,"S2":99},{"i":16,"j":19,"S5":24,"S4":74,"S3":96,"S2":99},{"i":16,"j":20,"S5":41,"S4":79,"S3":97,"S2":99},
{"i":17,"j":0,"S5":0,"S4":6,"S3":30,"S2":85},{"i":17,"j":1,"S5":0,"S4":6,"S3":32,"S2":85},{"i":17,"j":2,"S5":1,"S4":6,"S3":36,"S2":85},{"i":17,"j":3,"S5":1,"S4":7,"S3":41,"S2":86},{"i":17,"j":4,"S5":1,"S4":10,"S3":48,"S2":87},{"i":17,"j":5,"S5":1,"S4":16,"S3":58,"S2":89},{"i":17,"j":6,"S5":1,"S4":36,"S3":70,"S2":92},{"i":17,"j":7,"S5":1,"S4":40,"S3":80,"S2":94},{"i":17,"j":8,"S5":2,"S4":41,"S3":83,"S2":96},{"i":17,"j":9,"S5":2,"S4":42,"S3":85,"S2":96},{"i":17,"j":10,"S5":2,"S4":44,"S3":86,"S2":97},{"i":17,"j":11,"S5":3,"S4":47,"S3":87,"S2":97},{"i":17,"j":12,"S5":3,"S4":50,"S3":88,"S2":98},{"i":17,"j":13,"S5":4,"S4":52,"S3":88,"S2":98},{"i":17,"j":14,"S5":6,"S4":54,"S3":88,"S2":98},{"i":17,"j":15,"S5":8,"S4":56,"S3":88,"S2":98},{"i":17,"j":16,"S5":11,"S4":57,"S3":89,"S2":99},{"i":17,"j":17,"S5":13,"S4":57,"S3":90,"S2":99},{"i":17,"j":18,"S5":18,"S4":70,"S3":95,"S2":99},{"i":17,"j":19,"S5":27,"S4":76,"S3":97,"S2":99},{"i":17,"j":20,"S5":43,"S4":81,"S3":98,"S2":99},
{"i":18,"j":0,"S5":1,"S4":8,"S3":32,"S2":85},{"i":18,"j":1,"S5":1,"S4":8,"S3":34,"S2":86},{"i":18,"j":2,"S5":1,"S4":8,"S3":38,"S2":86},{"i":18,"j":3,"S5":1,"S4":9,"S3":44,"S2":87},{"i":18,"j":4,"S5":1,"S4":11,"S3":51,"S2":89},{"i":18,"j":5,"S5":1,"S4":17,"S3":60,"S2":91},{"i":18,"j":6,"S5":1,"S4":32,"S3":74,"S2":94},{"i":18,"j":7,"S5":2,"S4":41,"S3":83,"S2":96},{"i":18,"j":8,"S5":2,"S4":43,"S3":85,"S2":97},{"i":18,"j":9,"S5":2,"S4":45,"S3":86,"S2":97},{"i":18,"j":10,"S5":3,"S4":47,"S3":88,"S2":98},{"i":18,"j":11,"S5":3,"S4":50,"S3":89,"S2":98},{"i":18,"j":12,"S5":4,"S4":54,"S3":90,"S2":98},{"i":18,"j":13,"S5":5,"S4":56,"S3":91,"S2":98},{"i":18,"j":14,"S5":7,"S4":60,"S3":92,"S2":98},{"i":18,"j":15,"S5":9,"S4":64,"S3":92,"S2":99},{"i":18,"j":16,"S5":13,"S4":66,"S3":93,"S2":99},{"i":18,"j":17,"S5":15,"S4":68,"S3":93,"S2":99},{"i":18,"j":18,"S5":18,"S4":70,"S3":94,"S2":99},{"i":18,"j":19,"S5":30,"S4":78,"S3":97,"S2":99},{"i":18,"j":20,"S5":44,"S4":83,"S3":99,"S2":99},
{"i":19,"j":0,"S5":1,"S4":10,"S3":36,"S2":84},{"i":19,"j":1,"S5":1,"S4":10,"S3":38,"S2":86},{"i":19,"j":2,"S5":1,"S4":10,"S3":41,"S2":87},{"i":19,"j":3,"S5":1,"S4":11,"S3":46,"S2":88},{"i":19,"j":4,"S5":2,"S4":12,"S3":53,"S2":90},{"i":19,"j":5,"S5":2,"S4":17,"S3":62,"S2":93},{"i":19,"j":6,"S5":2,"S4":31,"S3":76,"S2":95},{"i":19,"j":7,"S5":2,"S4":41,"S3":84,"S2":97},{"i":19,"j":8,"S5":3,"S4":44,"S3":86,"S2":97},{"i":19,"j":9,"S5":3,"S4":46,"S3":87,"S2":98},{"i":19,"j":10,"S5":3,"S4":48,"S3":88,"S2":98},{"i":19,"j":11,"S5":4,"S4":51,"S3":90,"S2":98},{"i":19,"j":12,"S5":4,"S4":55,"S3":91,"S2":98},{"i":19,"j":13,"S5":6,"S4":58,"S3":93,"S2":98},{"i":19,"j":14,"S5":9,"S4":64,"S3":95,"S2":99},{"i":19,"j":15,"S5":11,"S4":68,"S3":95,"S2":99},{"i":19,"j":16,"S5":15,"S4":70,"S3":96,"S2":99},{"i":19,"j":17,"S5":19,"S4":74,"S3":96,"S2":99},{"i":19,"j":18,"S5":24,"S4":78,"S3":96,"S2":99},{"i":19,"j":19,"S5":30,"S4":82,"S3":97,"S2":99},{"i":19,"j":20,"S5":47,"S4":86,"S3":99,"S2":99},
{"i":20,"j":0,"S5":1,"S4":13,"S3":42,"S2":86},{"i":20,"j":1,"S5":1,"S4":12,"S3":43,"S2":86},{"i":20,"j":2,"S5":2,"S4":12,"S3":45,"S2":88},{"i":20,"j":3,"S5":2,"S4":13,"S3":48,"S2":90},{"i":20,"j":4,"S5":2,"S4":14,"S3":55,"S2":91},{"i":20,"j":5,"S5":3,"S4":17,"S3":63,"S2":94},{"i":20,"j":6,"S5":3,"S4":31,"S3":77,"S2":97},{"i":20,"j":7,"S5":3,"S4":41,"S3":85,"S2":97},{"i":20,"j":8,"S5":4,"S4":45,"S3":87,"S2":98},{"i":20,"j":9,"S5":4,"S4":47,"S3":88,"S2":98},{"i":20,"j":10,"S5":4,"S4":49,"S3":89,"S2":98},{"i":20,"j":11,"S5":5,"S4":52,"S3":91,"S2":98},{"i":20,"j":12,"S5":5,"S4":56,"S3":92,"S2":98},{"i":20,"j":13,"S5":7,"S4":59,"S3":94,"S2":98},{"i":20,"j":14,"S5":11,"S4":68,"S3":96,"S2":98},{"i":20,"j":15,"S5":12,"S4":69,"S3":96,"S2":98},{"i":20,"j":16,"S5":18,"S4":72,"S3":97,"S2":99},{"i":20,"j":17,"S5":23,"S4":76,"S3":98,"S2":99},{"i":20,"j":18,"S5":30,"S4":81,"S3":99,"S2":99},{"i":20,"j":19,"S5":36,"S4":83,"S3":99,"S2":99},{"i":20,"j":20,"S5":51,"S4":89,"S3":100,"S2":100}
]},
"data":{"name":"nodes"},
"transform":[{"fold":["S5","S4","S3","S2"],"as":["panel","pct"]},{"calculate":"datum.pct/100","as":"z"},{"calculate":"datum.panel=='S3'||datum.panel=='S2'?1:0","as":"rowIdx"},{"calculate":"datum.panel=='S4'||datum.panel=='S2'?1:0","as":"colIdx"}],
"facet":{"row":{"field":"rowIdx","type":"ordinal","header":null},"column":{"field":"colIdx","type":"ordinal","header":null}},
"spacing":{"row":0,"column":0},
"spec":{"width":415,"height":415,
"encoding":{"x":{"field":"X","type":"quantitative","scale":{"domain":[0,415],"nice":false,"zero":false},"axis":null},"y":{"field":"Y","type":"quantitative","scale":{"domain":[415,0],"nice":false,"zero":false},"axis":null}},
"layer":[
{"data":{"name":"points"},"transform":[{"calculate":"1-(datum.i+datum.j)/20","as":"s"},{"calculate":"1-.31*datum.s-.197*datum.z","as":"D"},{"calculate":"225+7.05*(datum.j-datum.i)/datum.D","as":"X"},{"calculate":"(238.5+13*datum.s-208.3*datum.z)/datum.D","as":"Y"}],"mark":{"type":"circle","size":3.5,"color":"#b4b4b4","opacity":1}},
{"data":{"name":"levels"},"transform":[{"calculate":"1-(datum.i+datum.j)/20","as":"s"},{"calculate":"1-.31*datum.s-.197*datum.z","as":"D"},{"calculate":"225+7.05*(datum.j-datum.i)/datum.D","as":"X"},{"calculate":"(238.5+13*datum.s-208.3*datum.z)/datum.D","as":"Y"}],"mark":{"type":"line","color":"#000","strokeWidth":1,"strokeDash":[1,3]},"encoding":{"detail":{"field":"g"},"order":{"field":"o"}}},
{"data":{"name":"frame"},"transform":[{"calculate":"1-(datum.i+datum.j)/20","as":"s"},{"calculate":"1-.31*datum.s-.197*datum.z","as":"D"},{"calculate":"225+7.05*(datum.j-datum.i)/datum.D","as":"X"},{"calculate":"(238.5+13*datum.s-208.3*datum.z)/datum.D","as":"Y"}],"mark":{"type":"line","color":"#000","strokeWidth":1.3},"encoding":{"detail":{"field":"g"},"order":{"field":"o"}}},
{"data":{"name":"ticks"},"transform":[{"calculate":"1-(datum.i+datum.j)/20","as":"s"},{"calculate":"1-.31*datum.s-.197*datum.z","as":"D"},{"calculate":"225+7.05*(datum.j-datum.i)/datum.D","as":"X"},{"calculate":"(238.5+13*datum.s-208.3*datum.z)/datum.D","as":"Y"},{"calculate":"datum.i+.6*datum.di","as":"i"},{"calculate":"datum.j+.6*datum.dj","as":"j"},{"calculate":"1-(datum.i+datum.j)/20","as":"s"},{"calculate":"1-.31*datum.s-.197*datum.z","as":"D"},{"calculate":"225+7.05*(datum.j-datum.i)/datum.D","as":"X2"},{"calculate":"(238.5+13*datum.s-208.3*datum.z)/datum.D","as":"Y2"}],"mark":{"type":"rule","color":"#000","strokeWidth":1.2},"encoding":{"x2":{"field":"X2"},"y2":{"field":"Y2"}}},
{"data":{"name":"ticks"},"transform":[{"filter":"datum.a=='l'"},{"calculate":"datum.i+1.2*datum.di","as":"i"},{"calculate":"datum.j+1.2*datum.dj","as":"j"},{"calculate":"1-(datum.i+datum.j)/20","as":"s"},{"calculate":"1-.31*datum.s-.197*datum.z","as":"D"},{"calculate":"225+7.05*(datum.j-datum.i)/datum.D","as":"X"},{"calculate":"(238.5+13*datum.s-208.3*datum.z)/datum.D","as":"Y"}],"mark":{"type":"text","fontSize":7.4,"dx":4,"dy":3,"color":"#000"},"encoding":{"text":{"field":"t"}}},
{"data":{"name":"ticks"},"transform":[{"filter":"datum.a=='r'"},{"calculate":"datum.i+1.2*datum.di","as":"i"},{"calculate":"datum.j+1.2*datum.dj","as":"j"},{"calculate":"1-(datum.i+datum.j)/20","as":"s"},{"calculate":"1-.31*datum.s-.197*datum.z","as":"D"},{"calculate":"225+7.05*(datum.j-datum.i)/datum.D","as":"X"},{"calculate":"(238.5+13*datum.s-208.3*datum.z)/datum.D","as":"Y"}],"mark":{"type":"text","fontSize":7.4,"dx":2,"dy":-2,"color":"#000"},"encoding":{"text":{"field":"t"}}},
{"data":{"name":"ticks"},"transform":[{"filter":"datum.a=='z'"},{"calculate":"datum.i+1.2*datum.di","as":"i"},{"calculate":"datum.j+1.2*datum.dj","as":"j"},{"calculate":"1-(datum.i+datum.j)/20","as":"s"},{"calculate":"1-.31*datum.s-.197*datum.z","as":"D"},{"calculate":"225+7.05*(datum.j-datum.i)/datum.D","as":"X"},{"calculate":"(238.5+13*datum.s-208.3*datum.z)/datum.D","as":"Y"}],"mark":{"type":"text","fontSize":7.4,"color":"#000"},"encoding":{"text":{"field":"t"}}},
{"data":{"name":"titles"},"transform":[{"calculate":"1-(datum.i+datum.j)/20","as":"s"},{"calculate":"1-.31*datum.s-.197*datum.z","as":"D"},{"calculate":"225+7.05*(datum.j-datum.i)/datum.D","as":"X"},{"calculate":"(238.5+13*datum.s-208.3*datum.z)/datum.D","as":"Y"}],"mark":{"type":"text","fontSize":14.3,"color":"#000"},"encoding":{"text":{"field":"t"}}},
{"transform":[{"calculate":"1-(datum.i+datum.j)/20","as":"s"},{"calculate":"1-.31*datum.s-.197*datum.z","as":"D"},{"calculate":"225+7.05*(datum.j-datum.i)/datum.D","as":"X"},{"calculate":"(238.5+13*datum.s-208.3*datum.z)/datum.D","as":"Y"}],"mark":{"type":"line","strokeWidth":1.4},"encoding":{"detail":{"field":"i"},"order":{"field":"j"},"color":{"field":"panel","type":"nominal","scale":{"domain":["S5","S4","S3","S2"],"range":["#A020F0","#0000FF","#00CD00","#FF0000"]},"legend":null}}},
{"transform":[{"calculate":"1-(datum.i+datum.j)/20","as":"s"},{"calculate":"1-.31*datum.s-.197*datum.z","as":"D"},{"calculate":"225+7.05*(datum.j-datum.i)/datum.D","as":"X"},{"calculate":"(238.5+13*datum.s-208.3*datum.z)/datum.D","as":"Y"}],"mark":{"type":"line","strokeWidth":1.4},"encoding":{"detail":{"field":"j"},"order":{"field":"i"},"color":{"field":"panel","type":"nominal","legend":null}}},
{"transform":[{"filter":"datum.i==0&&datum.j==0"},{"calculate":"0","as":"z"},{"calculate":"-5.13","as":"i"},{"calculate":"5.29","as":"j"},{"calculate":"1-(datum.i+datum.j)/20","as":"s"},{"calculate":"1-.31*datum.s-.197*datum.z","as":"D"},{"calculate":"225+7.05*(datum.j-datum.i)/datum.D","as":"X"},{"calculate":"(238.5+13*datum.s-208.3*datum.z)/datum.D","as":"Y"},{"calculate":"-6.45","as":"i"},{"calculate":"6.61","as":"j"},{"calculate":"1-(datum.i+datum.j)/20","as":"s"},{"calculate":"1-.31*datum.s-.197*datum.z","as":"D"},{"calculate":"225+7.05*(datum.j-datum.i)/datum.D","as":"X2"},{"calculate":"(238.5+13*datum.s-208.3*datum.z)/datum.D","as":"Y2"}],"mark":{"type":"rule","strokeWidth":1.4},"encoding":{"x2":{"field":"X2"},"y2":{"field":"Y2"},"color":{"field":"panel","type":"nominal","legend":null}}},
{"transform":[{"filter":"datum.i==0&&datum.j==0"},{"calculate":"0","as":"z"},{"calculate":"-7.09","as":"i"},{"calculate":"7.25","as":"j"},{"calculate":"1-(datum.i+datum.j)/20","as":"s"},{"calculate":"1-.31*datum.s-.197*datum.z","as":"D"},{"calculate":"225+7.05*(datum.j-datum.i)/datum.D","as":"X"},{"calculate":"(238.5+13*datum.s-208.3*datum.z)/datum.D","as":"Y"},{"calculate":"'S('+substring(datum.panel,1)+'|x)'","as":"lab"}],"mark":{"type":"text","fontSize":14,"align":"left","color":"#000"},"encoding":{"text":{"field":"lab"}}}
]}}
